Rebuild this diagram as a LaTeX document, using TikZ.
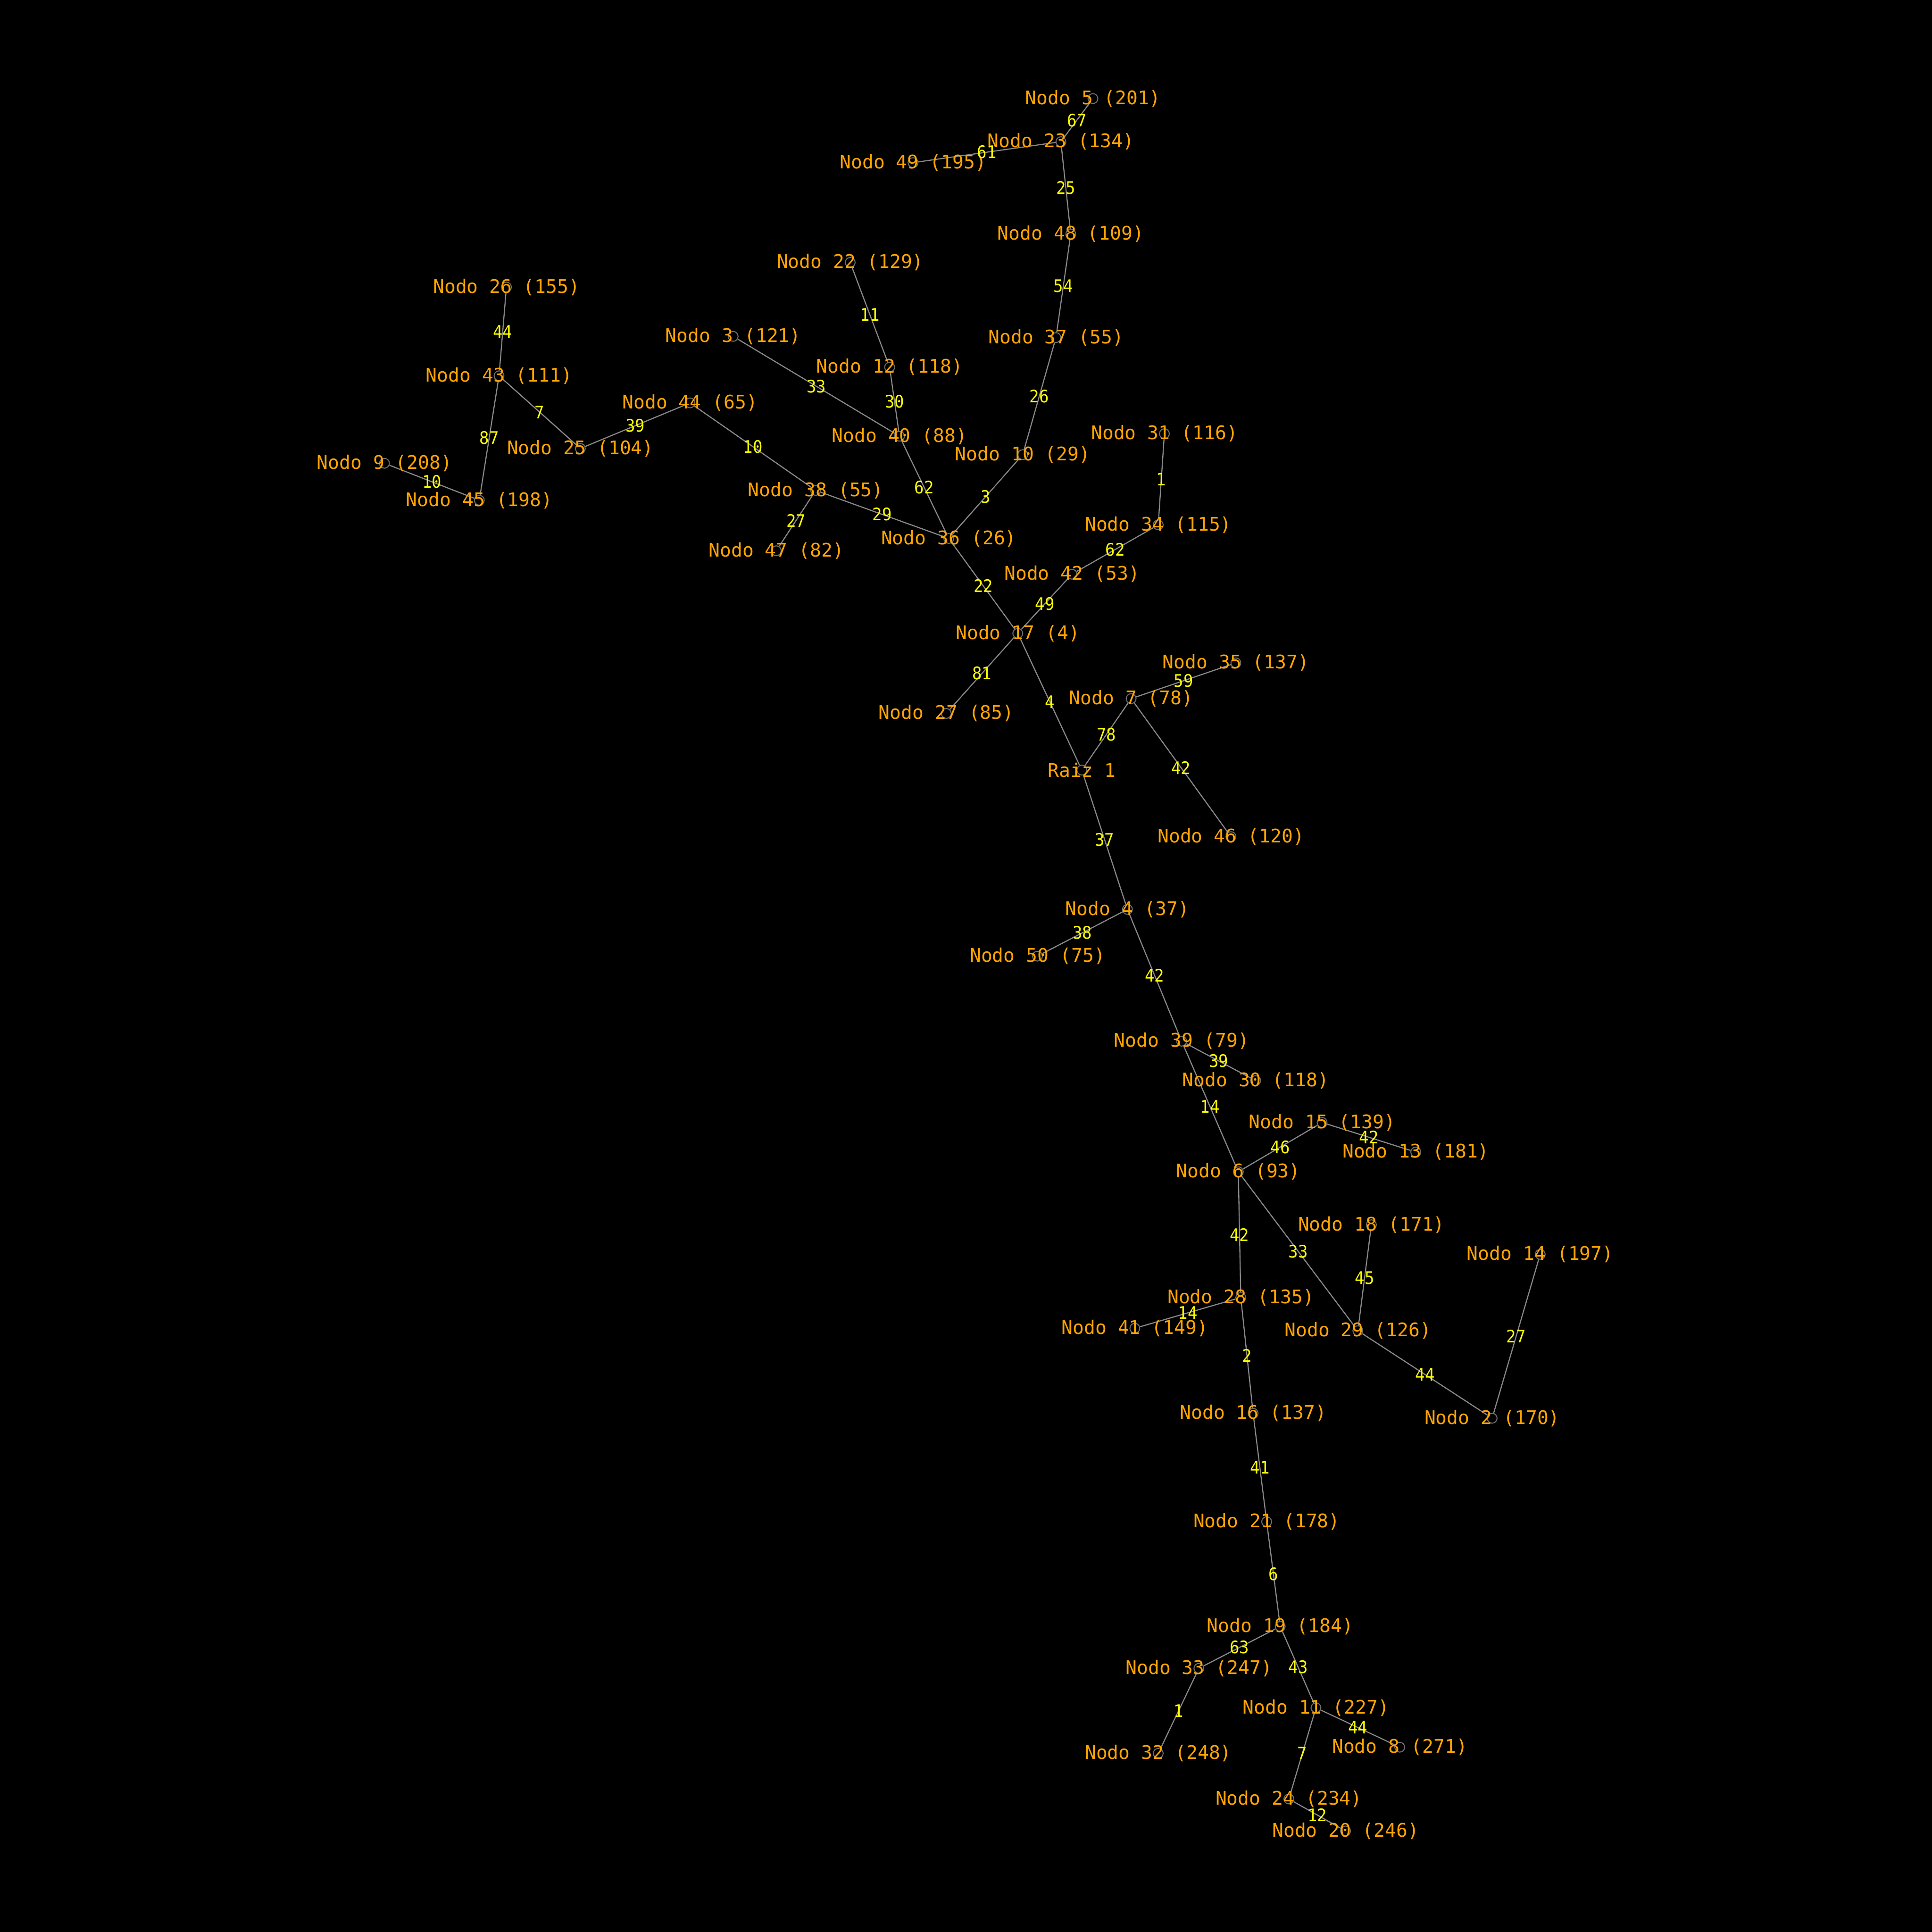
\documentclass[tikz,border=0pt]{standalone}
\usepackage{fontspec}
\setmonofont{DejaVu Sans Mono}
\newfontfamily\pesofont{DejaVu Sans Mono}[FakeStretch=0.93]
\pgfdeclarelayer{back}
\pgfsetlayers{back,main}
\definecolor{arista}{RGB}{136,136,136}
\definecolor{borde}{RGB}{110,110,110}
\definecolor{naranja}{RGB}{255,165,0}
\definecolor{amarillo}{RGB}{255,255,0}
\tikzset{every picture/.style={line width=0.5pt},
  pt/.style={circle,draw=borde,line width=0.4pt,inner sep=0pt,minimum size=4pt},
  lbl/.style={text=naranja,inner sep=0pt,font=\ttfamily\fontsize{7.6}{8}\selectfont},
  nodo/.style={pt,label={[lbl]center:#1}},
  wt/.style={text=amarillo,inner sep=0pt,font=\pesofont\fontsize{7}{7.5}\selectfont},
  edge/.style={draw=arista,line width=0.45pt}}
\begin{document}
\begin{tikzpicture}[x=0.5pt,y=0.5pt,yscale=-1,xscale=1]
	\useasboundingbox (0,0) rectangle (1568,1568);
	\begin{pgfonlayer}{back}
	\fill[black] (0,0) rectangle (1568,1568);
	\end{pgfonlayer}

	% Nodos
	\node[nodo={Raiz 1}] (raiz) at (878,625) {};
	\node[nodo={Nodo 17 (4)}] (n17) at (826,514) {};
	\node[nodo={Nodo 7 (78)}] (n7) at (918,567) {};
	\node[nodo={Nodo 4 (37)}] (n4) at (915,738) {};
	\node[nodo={Nodo 35 (137)}] (n35) at (1003,538) {};
	\node[nodo={Nodo 46 (120)}] (n46) at (999,679) {};
	\node[nodo={Nodo 36 (26)}] (n36) at (770,437) {};
	\node[nodo={Nodo 42 (53)}] (n42) at (870,466) {};
	\node[nodo={Nodo 27 (85)}] (n27) at (768,579) {};
	\node[nodo={Nodo 34 (115)}] (n34) at (940,426) {};
	\node[nodo={Nodo 31 (116)}] (n31) at (945,352) {};
	\node[nodo={Nodo 10 (29)}] (n10) at (830,369) {};
	\node[nodo={Nodo 40 (88)}] (n40) at (730,354) {};
	\node[nodo={Nodo 38 (55)}] (n38) at (662,398) {};
	\node[nodo={Nodo 37 (55)}] (n37) at (857,274) {};
	\node[nodo={Nodo 48 (109)}] (n48) at (869,190) {};
	\node[nodo={Nodo 23 (134)}] (n23) at (861,115) {};
	\node[nodo={Nodo 5 (201)}] (n5) at (887,80) {};
	\node[nodo={Nodo 49 (195)}] (n49) at (741,132) {};
	\node[nodo={Nodo 12 (118)}] (n12) at (722,298) {};
	\node[nodo={Nodo 3 (121)}] (n3) at (595,273) {};
	\node[nodo={Nodo 22 (129)}] (n22) at (690,213) {};
	\node[nodo={Nodo 44 (65)}] (n44) at (560,327) {};
	\node[nodo={Nodo 47 (82)}] (n47) at (630,447) {};
	\node[nodo={Nodo 25 (104)}] (n25) at (471,364) {};
	\node[nodo={Nodo 43 (111)}] (n43) at (405,305) {};
	\node[nodo={Nodo 26 (155)}] (n26) at (411,233) {};
	\node[nodo={Nodo 45 (198)}] (n45) at (389,406) {};
	\node[nodo={Nodo 9 (208)}] (n9) at (312,376) {};
	\node[nodo={Nodo 50 (75)}] (n50) at (842,776) {};
	\node[nodo={Nodo 39 (79)}] (n39) at (959,845) {};
	\node[nodo={Nodo 30 (118)}] (n30) at (1019,877) {};
	\node[nodo={Nodo 6 (93)}] (n6) at (1005,951) {};
	\node[nodo={Nodo 15 (139)}] (n15) at (1073,911) {};
	\node[nodo={Nodo 13 (181)}] (n13) at (1149,935) {};
	\node[nodo={Nodo 28 (135)}] (n28) at (1007,1053) {};
	\node[nodo={Nodo 29 (126)}] (n29) at (1102,1080) {};
	\node[nodo={Nodo 18 (171)}] (n18) at (1113,994) {};
	\node[nodo={Nodo 2 (170)}] (n2) at (1211,1151) {};
	\node[nodo={Nodo 14 (197)}] (n14) at (1250,1018) {};
	\node[nodo={Nodo 41 (149)}] (n41) at (921,1078) {};
	\node[nodo={Nodo 16 (137)}] (n16) at (1017,1147) {};
	\node[nodo={Nodo 21 (178)}] (n21) at (1028,1235) {};
	\node[nodo={Nodo 19 (184)}] (n19) at (1039,1320) {};
	\node[nodo={Nodo 33 (247)}] (n33) at (973,1354) {};
	\node[nodo={Nodo 11 (227)}] (n11) at (1068,1386) {};
	\node[nodo={Nodo 32 (248)}] (n32) at (940,1423) {};
	\node[nodo={Nodo 8 (271)}] (n8) at (1136,1418) {};
	\node[nodo={Nodo 24 (234)}] (n24) at (1046,1460) {};
	\node[nodo={Nodo 20 (246)}] (n20) at (1092,1486) {};

	% Aristas con pesos
	\foreach \a/\b/\w in {raiz/n17/4, raiz/n7/78, raiz/n4/37, n7/n35/59, n7/n46/42,
	  n17/n36/22, n17/n42/49, n17/n27/81, n42/n34/62, n34/n31/1,
	  n36/n10/3, n36/n40/62, n36/n38/29, n10/n37/26, n37/n48/54, n48/n23/25,
	  n23/n5/67, n23/n49/61, n40/n12/30, n40/n3/33, n12/n22/11,
	  n38/n44/10, n38/n47/27, n44/n25/39, n25/n43/7, n43/n26/44, n43/n45/87, n45/n9/10,
	  n4/n50/38, n4/n39/42, n39/n30/39, n39/n6/14, n6/n15/46, n15/n13/42,
	  n6/n28/42, n6/n29/33, n29/n18/45, n29/n2/44, n2/n14/27, n28/n41/14,
	  n28/n16/2, n16/n21/41, n21/n19/6, n19/n33/63, n19/n11/43, n33/n32/1,
	  n11/n8/44, n11/n24/7, n24/n20/12}{
	  \begin{pgfonlayer}{back}
	  \draw[edge] (\a) -- (\b);
	  \end{pgfonlayer}
	  \path (\a) -- node[wt] {\w} (\b);
	}
\end{tikzpicture}
\end{document}
